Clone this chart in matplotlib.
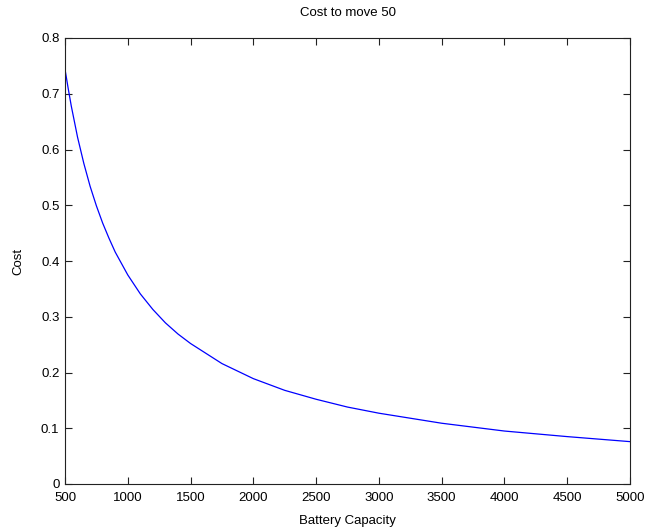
import matplotlib
matplotlib.use("Agg")
import matplotlib.pyplot as plt

# values
capacity = [500, 525, 550, 600, 650, 700, 750, 800, 850, 900, 1000, 1100, 1200,
            1300, 1400, 1500, 1750, 2000, 2250, 2500, 2750, 3000, 3500, 4000,
            4500, 5000]
cost = [0.744, 0.710, 0.678, 0.622, 0.575, 0.534, 0.499, 0.468, 0.441, 0.416,
        0.375, 0.341, 0.313, 0.289, 0.269, 0.252, 0.216, 0.189, 0.168, 0.152,
        0.138, 0.127, 0.109, 0.095, 0.085, 0.076]

xticks = [500, 1000, 1500, 2000, 2500, 3000, 3500, 4000, 4500, 5000]
yticks = [0, 0.1, 0.2, 0.3, 0.4, 0.5, 0.6, 0.7, 0.8]

plt.rcParams['font.family'] = ['Liberation Sans', 'DejaVu Sans']
plt.rcParams['font.size'] = 8

fig = plt.figure(figsize=(6.47, 5.31), dpi=100)
ax = fig.add_axes([65 / 647, 47 / 531, 565 / 647, 446 / 531])

ax.plot(capacity, cost, color='#0000ff', linewidth=0.9)

ax.set_xlim(500, 5000)
ax.set_ylim(0, 0.8)
ax.set_xticks(xticks)
ax.set_xticklabels([str(t) for t in xticks])
ax.set_yticks(yticks)
ax.set_yticklabels(['0', '0.1', '0.2', '0.3', '0.4', '0.5', '0.6', '0.7', '0.8'])
ax.tick_params(direction='in', length=5, width=0.8, top=True, right=True,
               colors='#222222', labelcolor='black', labelsize=9.5)
ax.tick_params(axis='x', pad=6)
ax.tick_params(axis='y', pad=4)
for s in ax.spines.values():
    s.set_color('#222222')
    s.set_linewidth(0.8)

ax.set_title("Cost to move 50", fontsize=9.5, pad=16)
ax.set_xlabel("Battery Capacity", fontsize=9.5, labelpad=8)
ax.set_ylabel("Cost", fontsize=9.5, labelpad=12)

fig.savefig("out.png", dpi=100)
